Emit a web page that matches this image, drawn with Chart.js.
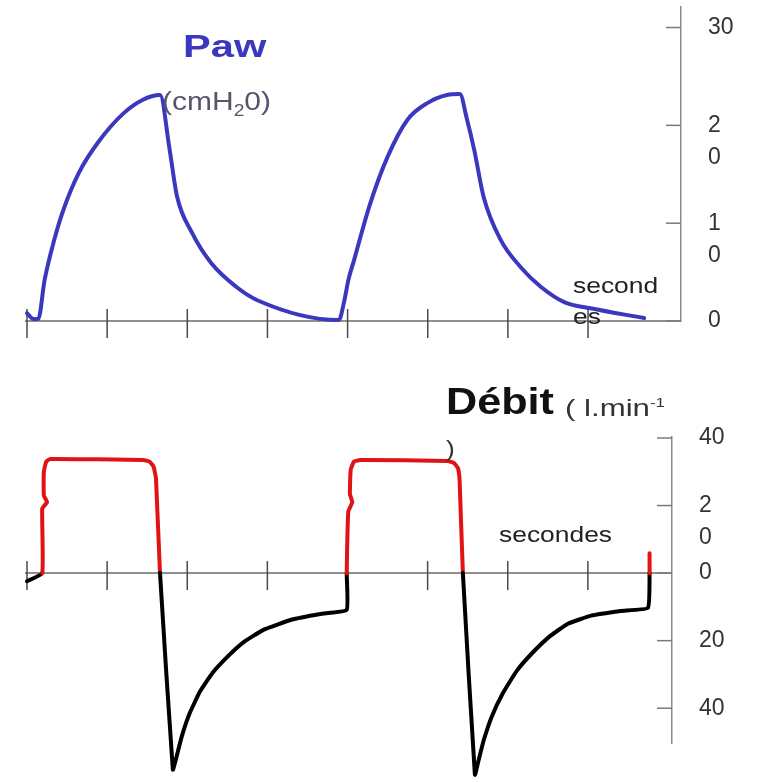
<!DOCTYPE html>
<html>
<head>
<meta charset="utf-8">
<script src="https://cdn.jsdelivr.net/npm/chart.js@4"></script>
<style>
  body { margin: 0; background: #fff; }
  #page { position: relative; width: 767px; height: 782px; overflow: hidden; font-family: "Liberation Sans", Arial, sans-serif; }
  .box { position: absolute; left: 0; }
  .txt { position: absolute; line-height: 1; white-space: nowrap; transform-origin: 0 0; transform: scaleX(1.2); }
</style>
</head>
<body>
<div id="page">
  <div class="box" style="top:0"><canvas id="paw-canvas" width="767" height="360"></canvas></div>
  <div class="box" style="top:360px"><canvas id="flow-canvas" width="767" height="422"></canvas></div>

  <div class="txt" style="left:183px; top:30px; font-size:32px; font-weight:bold; color:#3a38be; transform:scaleX(1.3)">Paw</div>
  <div class="txt" style="left:162px; top:89px; font-size:25px; color:#55566e">(cmH<sub style="font-size:16px">2</sub>0)</div>
  <div class="txt" style="left:573px; top:275px; font-size:22px; color:#222">second</div>
  <div class="txt" style="left:573px; top:306px; font-size:22px; color:#222">es</div>

  <div class="txt" style="left:446px; top:384px; font-size:36px; font-weight:bold; color:#111">Débit</div>
  <div class="txt" style="left:565px; top:396px; font-size:24px; color:#333; transform:scaleX(1.3)">( l.min<sup style="font-size:13px">-1</sup></div>
  <div class="txt" style="left:446px; top:438px; font-size:22px; color:#333">)</div>
  <div class="txt" style="left:499px; top:524px; font-size:22px; color:#222">secondes</div>
</div>

<script>
// time axis (seconds)
const timeTicks = [0, 1, 2, 3, 4, 5, 6, 7];

// Paw (cmH20)
const pawTime = [0, 0.08, 0.14, 0.22, 0.34, 0.46, 0.65, 0.89, 1.20, 1.44, 1.66, 1.78, 1.87, 2.06, 2.30, 2.61, 2.88, 3.89,
                 3.96, 4.01, 4.08, 4.27, 4.50, 4.75, 5.00, 5.24, 5.40, 5.49, 5.58, 5.70, 5.91, 6.16, 6.41, 6.71, 7.03, 7.70];
const pawValues = [0.8, 0.2, 0.2, 4.2, 8.3, 11.5, 15.2, 18.3, 21.2, 22.6, 23.1, 17.5, 12.8, 9.0, 5.9, 3.5, 2.1, 0.1,
                   2.1, 4.2, 6.2, 11.7, 16.8, 20.6, 22.3, 23.1, 23.2, 20.6, 17.5, 12.6, 8.3, 5.5, 3.5, 1.9, 1.3, 0.3];
const pawTickValues = [0, 10, 20, 30];
const pawTickLabels = ["0", ["", "1", "0"], ["", "2", "0"], "30"];

// Débit (l.min-1)
const flowTime = [0, 0.19, 0.19, 0.25, 0.21, 0.21, 0.24, 0.29, 1.45, 1.53, 1.58, 1.61, 1.66, 1.82, 1.86, 1.93, 2.03, 2.16, 2.31, 2.50, 2.70, 2.95, 3.30, 3.66, 3.99,
                  3.99, 4.01, 4.06, 4.03, 4.04, 4.08, 4.16, 5.25, 5.33, 5.38, 5.40, 5.44, 5.59, 5.63, 5.70, 5.80, 5.94, 6.11, 6.30, 6.52, 6.75, 7.04, 7.41, 7.75,
                  7.77, 7.77];
const flowValues = [-2.4, 0, 19.1, 21.0, 23.0, 30, 33.0, 33.8, 33.5, 33.0, 31.5, 28.0, 0, -58.2, -55.0, -48.5, -41.5, -35.0, -29.7, -24.8, -20.5, -16.8, -13.8, -12.1, -10.9,
                    0, 18.2, 21.0, 23.4, 30.6, 33.0, 33.5, 33.2, 32.6, 31.0, 27.0, 0, -59.7, -56.0, -49.5, -42.5, -35.5, -29.0, -23.8, -18.8, -15.0, -12.6, -11.2, -10.3,
                    0, 5.9];
const flowTickValues = [-40, -20, 0, 20, 40];
const flowTickLabels = ["40", "20", "0", ["", "2", "0"], "40"];

const RED = "#e01414";
const BLACK = "#000000";
const BLUE = "#3a38be";

function toPoints(xs, ys) {
    return xs.map((x, i) => ({ x: x, y: ys[i] }));
}

// draws the zero axis with crossing ticks and the short y tick marks left of the axis
const axisMarks = {
    id: "axisMarks",
    beforeDatasetsDraw(chart) {
        const ctx = chart.ctx;
        const xs = chart.scales.x;
        const ys = chart.scales.y;
        const area = chart.chartArea;
        const y0 = ys.getPixelForValue(0);
        ctx.save();
        ctx.lineWidth = 1.5;
        ctx.strokeStyle = "#6a6a6a";
        ctx.beginPath();
        ctx.moveTo(area.left - 2, y0);
        ctx.lineTo(area.right, y0);
        ctx.stroke();
        ctx.strokeStyle = "#4a4a4a";
        timeTicks.forEach(t => {
            const px = xs.getPixelForValue(t);
            ctx.beginPath();
            ctx.moveTo(px, y0 - 12);
            ctx.lineTo(px, y0 + 17);
            ctx.stroke();
        });
        ctx.strokeStyle = "#7a7a7a";
        ys.ticks.forEach(tk => {
            const py = ys.getPixelForValue(tk.value);
            ctx.beginPath();
            ctx.moveTo(area.right - 15, py);
            ctx.lineTo(area.right, py);
            ctx.stroke();
        });
        ctx.restore();
    }
};

function makeChart(id, dataset, yMin, yMax, tickValues, tickLabels, xMax, axisWidth, pad) {
    return new Chart(document.getElementById(id), {
        type: "line",
        data: { datasets: [dataset] },
        options: {
            responsive: false,
            animation: false,
            layout: { padding: pad },
            plugins: { legend: { display: false }, tooltip: { enabled: false } },
            elements: { point: { radius: 0 } },
            scales: {
                x: { type: "linear", min: 0, max: xMax, display: false },
                y: {
                    position: "right",
                    min: yMin,
                    max: yMax,
                    afterBuildTicks: s => { s.ticks = tickValues.map(v => ({ value: v })); },
                    afterFit: s => { s.width = axisWidth; s.paddingTop = 0; s.paddingBottom = 0; },
                    grid: { drawOnChartArea: false, drawTicks: false },
                    border: { display: true, color: "#8a8a8a", width: 1.5 },
                    ticks: {
                        autoSkip: false,
                        padding: 27,
                        color: "#333",
                        font: { family: "Liberation Sans", size: 23, lineHeight: 1.4 },
                        callback: v => tickLabels[tickValues.indexOf(v)]
                    }
                }
            }
        },
        plugins: [axisMarks]
    });
}

makeChart("paw-canvas", {
    data: toPoints(pawTime, pawValues),
    borderColor: BLUE,
    borderWidth: 4,
    borderJoinStyle: "round",
    borderCapStyle: "round",
    cubicInterpolationMode: "monotone",
    clip: false
}, 0, 32.1, pawTickValues, pawTickLabels, 8.16, 86, { top: 7, bottom: 39, left: 27, right: 0 });

makeChart("flow-canvas", {
    data: toPoints(flowTime, flowValues),
    borderColor: BLACK,
    borderWidth: 4,
    borderJoinStyle: "round",
    borderCapStyle: "round",
    tension: 0.12,
    clip: false,
    segment: {
        borderColor: c => (c.p0.parsed.y >= 0 && c.p1.parsed.y >= 0) ? RED : BLACK
    }
}, -50.3, 40.3, flowTickValues, flowTickLabels, 8.05, 95, { top: 77, bottom: 39, left: 27, right: 0 });
</script>
</body>
</html>
